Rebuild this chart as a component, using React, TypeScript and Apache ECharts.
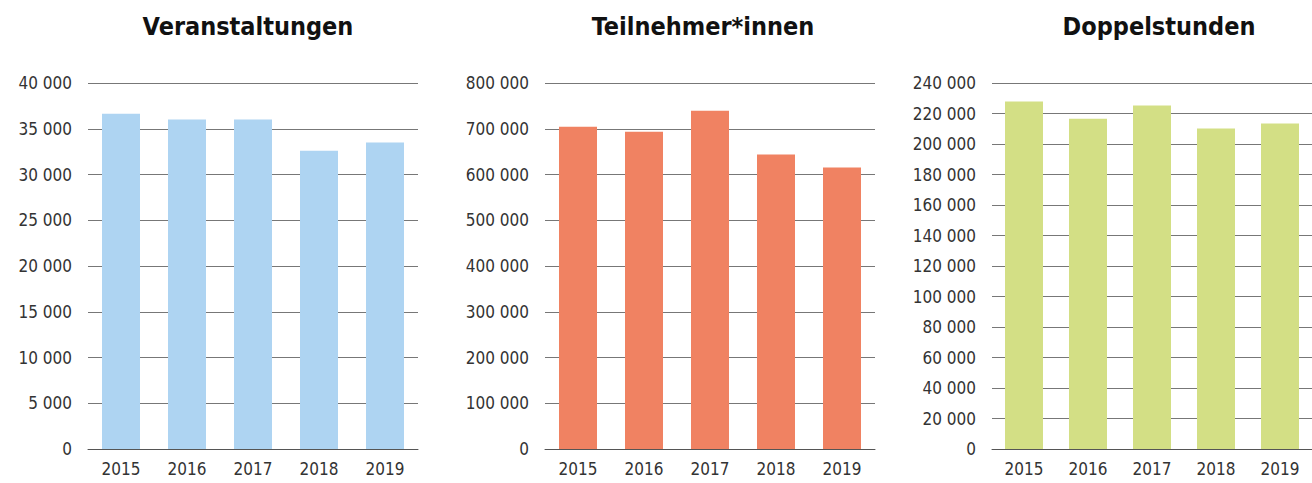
import React, { useEffect, useRef } from "react";
import * as echarts from "echarts";

const years = ["2015", "2016", "2017", "2018", "2019"];
const veranstaltungen = [36650, 36000, 36000, 32600, 33500];
const teilnehmer = [704600, 693700, 739600, 643500, 615100];
const doppelstunden = [227800, 216600, 225200, 210100, 213400];

const titles = ["Veranstaltungen", "Teilnehmer*innen", "Doppelstunden"];
const colors = ["#aed4f2", "#f08262", "#d3df85"];
const maxes = [40000, 800000, 240000];
const intervals = [5000, 100000, 20000];

const FONT = '"Liberation Sans Narrow", "DejaVu Sans Condensed", "Noto Sans", sans-serif';

const gridLefts = [88, 545, 992];
const gridWidth = 330;
const titleCenters = [243, 698, 1154];

function fmt(v: number): string {
  return String(v).replace(/\B(?=(\d{3})+(?!\d))/g, " ");
}

export default function App() {
  const ref = useRef<HTMLDivElement>(null);
  useEffect(() => {
    if (!ref.current) return;
    const chart = echarts.init(ref.current, undefined, { renderer: "svg" });
    const data = [veranstaltungen, teilnehmer, doppelstunden];
    chart.setOption({
      animation: false,
      backgroundColor: "#ffffff",
      title: titles.map((t, i) => ({
        text: t,
        left: titleCenters[i],
        top: 9,
        textAlign: "center",
        textStyle: { fontFamily: FONT, fontWeight: "bold", fontSize: 25, color: "#111" },
      })),
      grid: gridLefts.map((l) => ({ left: l, width: gridWidth, top: 83, height: 366 })),
      xAxis: gridLefts.map((_, i) => ({
        type: "category",
        gridIndex: i,
        data: years,
        axisTick: { show: false },
        axisLine: { show: true, lineStyle: { color: "#555", width: 1 } },
        axisLabel: { fontFamily: FONT, fontSize: 17, color: "#333", margin: 11 },
      })),
      yAxis: gridLefts.map((_, i) => ({
        type: "value",
        gridIndex: i,
        min: 0,
        max: maxes[i],
        interval: intervals[i],
        axisLine: { show: false },
        axisTick: { show: false },
        splitLine: { show: true, lineStyle: { color: "#777", width: 1 } },
        axisLabel: { fontFamily: FONT, fontSize: 17, color: "#333", margin: 16, formatter: (v: number) => fmt(v) },
      })),
      series: data.map((d, i) => ({
        type: "bar",
        xAxisIndex: i,
        yAxisIndex: i,
        data: d,
        barWidth: 38,
        itemStyle: { color: colors[i] },
      })),
    });
    return () => chart.dispose();
  }, []);
  return (
    <div
      ref={ref}
      style={{ position: "fixed", left: 0, top: 0, width: 1312, height: 483 }}
    />
  );
}
